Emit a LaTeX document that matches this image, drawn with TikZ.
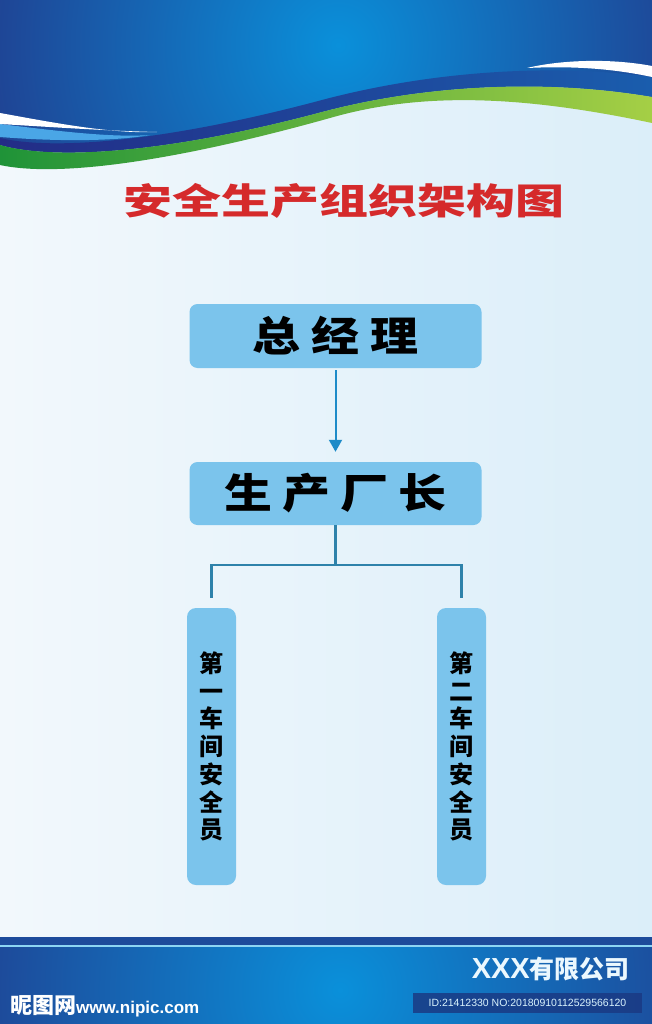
\documentclass[tikz,border=0pt]{standalone}
\usepackage{fontspec}
\newfontfamily\cjk{Noto Sans CJK SC}
\newfontfamily\latin{Liberation Sans}
\usetikzlibrary{arrows.meta}

\definecolor{navy}{HTML}{27277A}
\definecolor{skyhi}{HTML}{0A90DA}
\definecolor{bandL}{HTML}{232C86}
\definecolor{bandR}{HTML}{1A5DAD}
\definecolor{greenL}{HTML}{1F9338}
\definecolor{greenR}{HTML}{A5CF45}
\definecolor{paleL}{HTML}{F2F8FC}
\definecolor{paleR}{HTML}{DBEEF9}
\definecolor{streak}{HTML}{4AA6E6}
\definecolor{boxblue}{HTML}{7BC4EC}
\definecolor{linkblue}{HTML}{2E82AA}
\definecolor{arrowblue}{HTML}{1D8BC8}
\definecolor{titlered}{HTML}{D52A2B}
\definecolor{footnavy}{HTML}{1D4B9B}
\definecolor{cyanline}{HTML}{8DD5F3}
\definecolor{idnavy}{HTML}{1A3A84}

\tikzset{
  orgbox/.style={fill=boxblue, rounded corners=8pt, inner sep=0pt, align=center},
  postbox/.style={orgbox, rounded corners=9pt, minimum width=49pt, minimum height=277pt,
    font=\cjk\bfseries\fontsize{24}{27.7}\selectfont},
  link/.style={linkblue, line width=2.3pt},
  downarrow/.style={arrowblue, line width=2pt, -{Triangle[width=13pt,length=12pt]}}
}

\begin{document}
\begin{tikzpicture}[x=1pt,y=-1pt]
    \useasboundingbox (0,0) rectangle (652,1024);
    % background
    \shade[left color=paleL,right color=paleR] (0,0) rectangle (652,1024);

    % header wave
    \begin{scope}
        \clip (0,0) -- (652,0) -- (652,97) .. controls (540,78) and (420,86) .. (322,112) .. controls (180,150) and (60,162) .. (0,145) -- cycle;
        \shade[inner color=skyhi,outer color=navy] (338,45) circle (480pt);
    \end{scope}
    \shade[left color=bandL,right color=bandR] (0,138) .. controls (60,152) and (180,138) .. (322,100) .. controls (420,74) and (540,62) .. (652,77) -- (652,97) .. controls (540,78) and (420,86) .. (322,112) .. controls (180,150) and (60,162) .. (0,145) -- cycle;
    \shade[left color=greenL,right color=greenR] (0,145) .. controls (60,162) and (180,150) .. (322,112) .. controls (420,86) and (540,78) .. (652,97) -- (652,123) .. controls (520,95) and (420,92) .. (330,118) .. controls (180,160) and (60,178) .. (0,165) -- cycle;
    \fill[streak] (0,124) .. controls (50,130) and (110,138) .. (150,135) .. controls (110,142) and (50,141) .. (0,137) -- cycle;
    \fill[white] (0,113) .. controls (50,122) and (110,134) .. (157,132) .. controls (110,131) and (50,127) .. (0,124) -- cycle;
    \fill[white] (527,68) .. controls (560,60) and (610,58) .. (652,66) -- (652,77) .. controls (610,68) and (570,66) .. (527,68) -- cycle;

    % footer band
    \fill[footnavy] (0,937) rectangle (652,945);
    \fill[cyanline] (0,945) rectangle (652,947.5);
    \begin{scope}
        \clip (0,947.5) rectangle (652,1024);
        \shade[inner color=skyhi,outer color=navy] (340,990) circle (520pt);
    \end{scope}

    % title
    \node[titlered] (title) at (344,201) {\fontsize{36}{36}\selectfont\cjk\bfseries\scalebox{1.36}[1]{安全生产组织架构图}};

    % chart
    \node[orgbox, minimum width=292pt, minimum height=64pt] (gm) at (335.5,336) {\fontsize{41}{41}\selectfont\cjk\bfseries\scalebox{1.17}[1]{总\hspace{9.4pt}经\hspace{9.4pt}理}};
    \node[orgbox, minimum width=292pt, minimum height=63pt] (pm) at (335.5,493.5) {\fontsize{41}{41}\selectfont\cjk\bfseries\scalebox{1.17}[1]{生\hspace{8.5pt}产\hspace{8.5pt}厂\hspace{8.5pt}长}};
    \node[postbox] (ws1) at (211.5,746.5) {第\\一\\车\\间\\安\\全\\员};
    \node[postbox] (ws2) at (461.5,746.5) {第\\二\\车\\间\\安\\全\\员};

    \draw[downarrow, shorten <=2pt, shorten >=10pt] (gm) -- (pm);
    \coordinate (fork) at (335.5,565);
    \draw[link] (pm.south) -- (fork);
    \draw[link] ([yshift=10pt]ws1.north) |- (fork) -| ([yshift=10pt]ws2.north);

    % footer texts
    \node[anchor=base east, text=white!92!cyan, inner sep=0pt] (company) at (630,978) {\fontsize{29}{29}\selectfont\latin\bfseries XXX\cjk\fontsize{25}{25}\selectfont 有限公司};
    \node[fill=idnavy, fill opacity=0.85, text opacity=1, text=white!85!cyan, minimum width=229pt, minimum height=20pt, inner sep=0pt] (idbox) at (527.5,1003) {\fontsize{10.5}{10.5}\selectfont\latin ID:21412330 NO:20180910112529566120};
    \node[anchor=base west, text=white, inner sep=0pt] (mark) at (10,1013) {\fontsize{22}{22}\selectfont\cjk\bfseries 昵图网\latin\fontsize{17}{17}\selectfont www.nipic.com};
\end{tikzpicture}
\end{document}
